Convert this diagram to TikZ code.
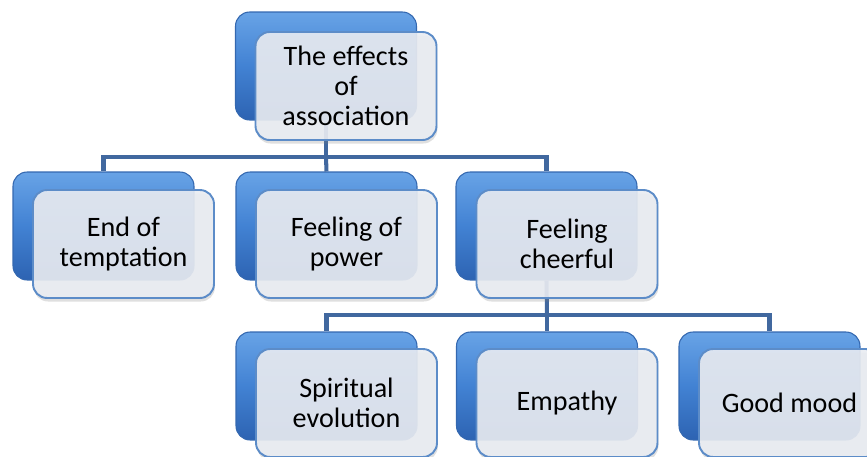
\documentclass[tikz,border=0pt]{standalone}
\usepackage{fontspec}
\setmainfont{Carlito}
\usepackage{tikz}
\usetikzlibrary{shadows}

\definecolor{boxTop}{HTML}{68A3E6}
\definecolor{boxMid}{HTML}{4282D3}
\definecolor{boxBottom}{HTML}{2D63B2}
\definecolor{boxEdge}{HTML}{3468B0}
\definecolor{cardFill}{HTML}{E9ECF2}
\definecolor{cardEdge}{HTML}{5C8CC8}
\definecolor{linkBlue}{HTML}{41689F}

\tikzset{
  backbox/.style={rectangle, rounded corners=8pt, minimum width=3.62cm, minimum height=2.16cm,
    top color=boxTop, bottom color=boxBottom, middle color=boxMid, draw=boxEdge, line width=0.6pt},
  frontbox/.style={rectangle, rounded corners=8pt, minimum width=3.62cm, minimum height=2.16cm,
    fill=cardFill, fill opacity=0.9, text opacity=1, draw=cardEdge, line width=1.1pt, align=center,
    font=\fontsize{16}{17}\selectfont,
    drop shadow={opacity=0.25, shadow xshift=0.5pt, shadow yshift=-2pt}},
  link/.style={draw=linkBlue, line width=2.3pt}
}

\begin{document}
\begin{tikzpicture}[x=0.02cm, y=-0.02cm]
    \useasboundingbox (0,0) rectangle (867,457);
    \clip (0,0) rectangle (867,457);

    % level 1
    \node[backbox] (effectsBack) at (326,66) {};

    % level 2
    \node[backbox] (temptationBack) at (103.5,226) {};
    \node[backbox] (powerBack) at (326.5,226) {};
    \node[backbox] (cheerfulBack) at (546.5,226) {};

    % level 3
    \node[backbox] (spiritualBack) at (326.5,386) {};
    \node[backbox] (empathyBack) at (547,386) {};
    \node[backbox] (moodBack) at (769.5,386) {};

    % connectors
    \coordinate (barTop) at (326,157);
    \coordinate (barLow) at (547,315);
    \draw[link] (effectsBack.south) -- (barTop);
    \draw[link] (barTop) -| (temptationBack.north);
    \draw[link] (barTop) -- (powerBack.north);
    \draw[link] (barTop) -| (cheerfulBack.north);
    \draw[link] (cheerfulBack.south) -- (barLow);
    \draw[link] (barLow) -| (spiritualBack.north);
    \draw[link] (barLow) -- (empathyBack.north);
    \draw[link] (barLow) -| (moodBack.north);

    % front cards
    \node[frontbox] (effects) at (346,86) {The effects\\of\\association};
    \node[frontbox] (temptation) at (123.5,244) {End of\\temptation};
    \node[frontbox] (power) at (346.5,244) {Feeling of\\power};
    \node[frontbox] (cheerful) at (567,244) {Feeling\\cheerful};
    \node[frontbox] (spiritual) at (346.5,403) {Spiritual\\evolution};
    \node[frontbox] (empathy) at (567,403) {Empathy};
    \node[frontbox] (mood) at (789.5,403) {Good mood};
\end{tikzpicture}
\end{document}
